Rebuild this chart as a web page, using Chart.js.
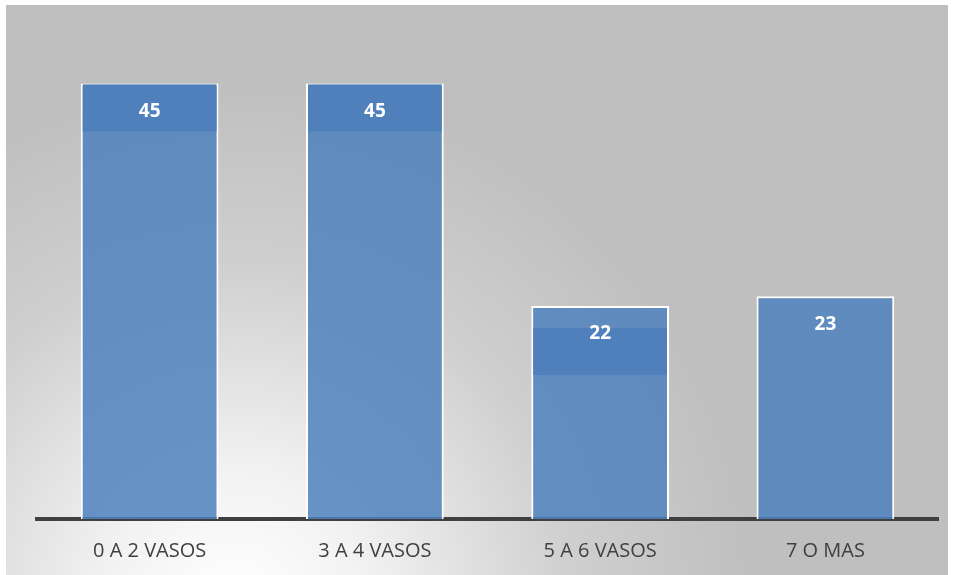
<!DOCTYPE html>
<html>
<head>
<meta charset="utf-8">
<script src="https://cdn.jsdelivr.net/npm/chart.js@4"></script>
<style>
html,body{margin:0;padding:0;background:#fff;}
#wrap{width:953px;height:575px;}
</style>
</head>
<body>
<div id="wrap"><canvas id="c" width="953" height="575"></canvas></div>
<script>
const categories = ["0 A 2 VASOS", "3 A 4 VASOS", "5 A 6 VASOS", "7 O MAS"];
const values = [45, 45, 22, 23];
const labelBandOffsets = [0, 0, 21, null];

const bgPlugin = {
  id: 'bg',
  beforeDraw(chart) {
    const ctx = chart.ctx;
    ctx.save();
    ctx.fillStyle = '#ffffff';
    ctx.fillRect(0, 0, chart.width, chart.height);
    const g = ctx.createRadialGradient(235, 600, 0, 235, 600, 520);
    g.addColorStop(0, '#ffffff');
    g.addColorStop(0.25, '#f2f2f2');
    g.addColorStop(0.65, '#cfcfcf');
    g.addColorStop(1, '#bfbfbf');
    ctx.fillStyle = g;
    ctx.fillRect(6, 5, 942, 570);
    ctx.restore();
  }
};

const labelPlugin = {
  id: 'vlabels',
  afterDatasetsDraw(chart) {
    const ctx = chart.ctx;
    const meta = chart.getDatasetMeta(0);
    ctx.save();
    meta.data.forEach((bar, i) => {
      const w = bar.width;
      const off = labelBandOffsets[i];
      if (off !== null) {
        ctx.fillStyle = '#4f80bc';
        ctx.fillRect(bar.x - w / 2 + 2, bar.y + off + 1, w - 4, 47);
      }
      ctx.fillStyle = '#ffffff';
      ctx.font = 'bold 19px "Open Sans", "Liberation Sans", sans-serif';
      ctx.textAlign = 'center';
      ctx.textBaseline = 'middle';
      ctx.fillText(String(values[i]), bar.x, bar.y + 28);
    });
    ctx.restore();
  }
};

new Chart(document.getElementById('c'), {
  type: 'bar',
  data: {
    labels: categories,
    datasets: [{
      data: values,
      backgroundColor: 'rgba(79,129,189,0.85)',
      borderColor: '#ffffff',
      borderWidth: 2,
      borderSkipped: 'bottom',
      barPercentage: 0.81,
      categoryPercentage: 0.755
    }]
  },
  options: {
    responsive: false,
    animation: false,
    devicePixelRatio: 1,
    layout: { padding: { left: 37, right: 15, top: 35, bottom: 0 } },
    plugins: { legend: { display: false }, tooltip: { enabled: false } },
    scales: {
      x: {
        grid: { display: false, drawTicks: false },
        border: { display: true, color: '#404040', width: 4 },
        ticks: {
          color: '#404040',
          padding: 20,
          font: { size: 20, family: '"Open Sans", "Liberation Sans", sans-serif' }
        },
        afterFit(scale) { scale.height = 56; }
      },
      y: {
        display: false,
        min: 0,
        max: 50
      }
    }
  },
  plugins: [bgPlugin, labelPlugin]
});
</script>
</body>
</html>
